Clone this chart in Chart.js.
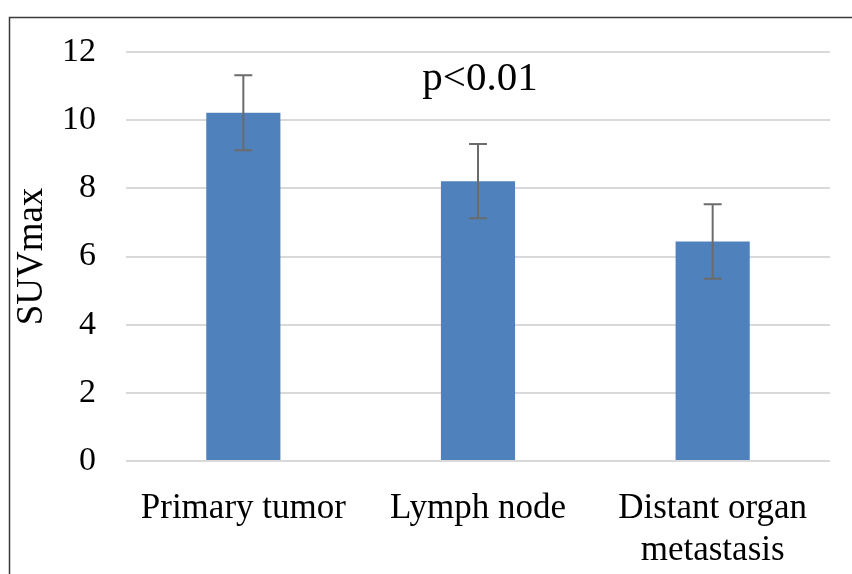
<!DOCTYPE html>
<html>
<head>
<meta charset="utf-8">
<script src="https://cdn.jsdelivr.net/npm/chart.js@4.4.1/dist/chart.umd.min.js"></script>
<style>
  html, body { margin: 0; padding: 0; background: #fff; }
  #wrap { position: relative; width: 852px; height: 574px; }
</style>
</head>
<body>
<div id="wrap"><canvas id="suvChart" width="852" height="574"></canvas></div>
<script>
// data
const categories = ['Primary tumor', 'Lymph node', ['Distant organ', 'metastasis']];
const suvMean = [10.22, 8.21, 6.44];
const suvSd = [1.1, 1.09, 1.09];
const yTicks = [0, 2, 4, 6, 8, 10, 12];
const pLabel = 'p<0.01';

const serif = "'Liberation Serif', 'Times New Roman', serif";

// error bars + frame + p value text
const extras = {
    id: 'extras',
    afterDatasetsDraw(chart) {
        const ctx = chart.ctx;
        const x = chart.scales.x, y = chart.scales.y;
        ctx.save();
        ctx.strokeStyle = '#6b6b6b';
        ctx.lineWidth = 2;
        suvMean.forEach((v, i) => {
            const cx = x.getPixelForValue(i);
            const top = y.getPixelForValue(v + suvSd[i]);
            const bot = y.getPixelForValue(v - suvSd[i]);
            ctx.beginPath();
            ctx.moveTo(cx, top); ctx.lineTo(cx, bot);
            ctx.moveTo(cx - 9, top); ctx.lineTo(cx + 9, top);
            ctx.moveTo(cx - 9, bot); ctx.lineTo(cx + 9, bot);
            ctx.stroke();
        });
        // p value
        ctx.fillStyle = '#000';
        ctx.font = '41px ' + serif;
        ctx.textAlign = 'center';
        ctx.textBaseline = 'alphabetic';
        ctx.fillText(pLabel, x.getPixelForValue(1) + 2, y.getPixelForValue(10.88));
        // outer frame (top and left only)
        ctx.strokeStyle = '#3a3a3a';
        ctx.lineWidth = 1.5;
        ctx.beginPath();
        ctx.moveTo(852, 17.5); ctx.lineTo(9.5, 17.5); ctx.lineTo(9.5, 574);
        ctx.stroke();
        ctx.restore();
    }
};

new Chart(document.getElementById('suvChart').getContext('2d'), {
    type: 'bar',
    data: {
        labels: categories,
        datasets: [{
            data: suvMean,
            backgroundColor: '#4f81bd',
            borderWidth: 0,
            categoryPercentage: 1,
            barPercentage: 0.316
        }]
    },
    options: {
        responsive: false, animation: false,
        layout: { padding: { left: 0, right: 22, top: 52, bottom: 0 } },
        plugins: { legend: { display: false }, tooltip: { enabled: false } },
        scales: {
            x: {
                grid: { display: false, drawTicks: false },
                border: { display: false },
                ticks: { color: '#000', font: { family: serif, size: 35, lineHeight: 1.2 }, padding: 27, maxRotation: 0, autoSkip: false },
                afterFit: s => { s.height = 113; }
            },
            y: {
                min: 0, max: 12,
                afterBuildTicks: s => { s.ticks = yTicks.map(v => ({ value: v })); },
                grid: { color: '#d9d9d9', lineWidth: 2, drawTicks: false },
                border: { display: false },
                ticks: { color: '#000', font: { family: serif, size: 34 }, padding: 30 },
                title: { display: true, text: 'SUVmax', color: '#000', font: { family: serif, size: 37 }, padding: { top: 10, bottom: 0 } },
                afterFit: s => { s.width = 126; }
            }
        }
    },
    plugins: [extras]
});
</script>
</body>
</html>
